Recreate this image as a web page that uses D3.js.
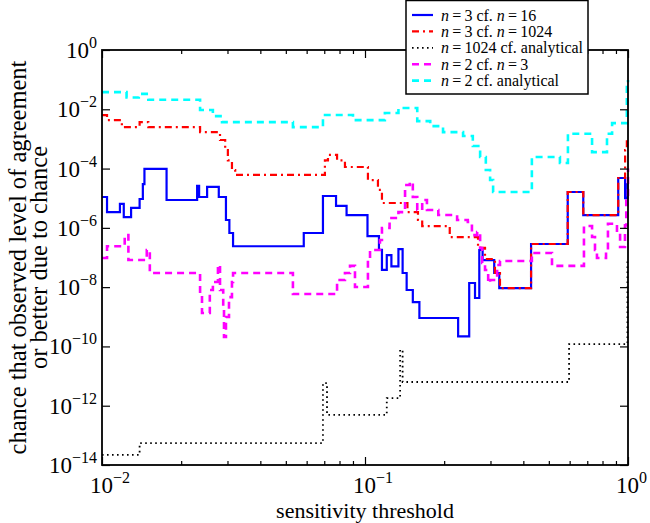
<!DOCTYPE html>
<html><head><meta charset="utf-8">
<script src="https://cdn.jsdelivr.net/npm/d3@7"></script>
<style>
body{margin:0;background:#fff;}
svg{display:block;}
</style></head>
<body><svg id="c" width="650" height="523"></svg>
<script>
// ---- data (x = sensitivity threshold, y = chance) ----
const n3v16 = [[0.0100,1.1e-5],[0.01045,3.4e-6],[0.0117,6.4e-6],[0.0121,2.3e-6],[0.0129,4.7e-6],[0.0139,9.4e-6],[0.0143,3.0e-5],[0.0145,9.7e-5],[0.0176,8.7e-6],[0.0230,2.6e-5],[0.0234,1.1e-5],[0.0251,2.4e-5],[0.0278,1.1e-5],[0.0296,1.84e-6],[0.0305,6.7e-7],[0.0315,2.4e-7],[0.0585,6.7e-7],[0.0692,1.19e-5],[0.0776,5.5e-6],[0.0851,2.7e-6],[0.1022,5.3e-7],[0.113,1.8e-7],[0.116,3.8e-8],[0.121,1.21e-7],[0.126,5.0e-8],[0.134,1.93e-7],[0.139,3.0e-8],[0.144,8.0e-9],[0.152,3.1e-9],[0.161,9.1e-10],[0.226,2.2e-10],[0.249,1.38e-8],[0.262,4.3e-9],[0.272,1.79e-7],[0.280,8.2e-8],[0.310,3.0e-8],[0.324,9.3e-9],[0.428,2.85e-7],[0.590,1.62e-5],[0.676,2.7e-6],[0.918,4.8e-5],[0.975,1.0e-5],[0.995,3.0e-5],[1.0,3.0e-5]];
const n3v1024 = [[0.0100,6.4e-3],[0.01045,4.3e-3],[0.0119,2.5e-3],[0.0139,3.7e-3],[0.0150,2.5e-3],[0.0236,1.7e-3],[0.0281,9.2e-4],[0.0294,4.2e-4],[0.0301,1.9e-4],[0.0312,8.9e-5],[0.0321,6.1e-5],[0.0704,1.9e-4],[0.0723,2.9e-4],[0.0783,1.9e-4],[0.0839,1.13e-4],[0.1026,4.1e-5],[0.112,1.9e-5],[0.116,6.9e-6],[0.145,3.4e-6],[0.159,1.84e-6],[0.165,1.15e-6],[0.210,4.9e-7],[0.269,2.1e-7],[0.286,8.9e-8],[0.312,3.0e-8],[0.326,9.3e-9],[0.428,2.85e-7],[0.590,1.62e-5],[0.676,2.7e-6],[0.918,4.8e-5],[0.975,4.2e-4],[0.99,9e-4],[1.0,9e-4]];
const n1024vAnalytical = [[0.0100,2.2e-14],[0.0139,5.5e-14],[0.0692,5.8e-12],[0.0717,4.9e-13],[0.121,1.8e-12],[0.136,7.6e-11],[0.139,6.3e-12],[0.597,1.2e-10],[0.995,9e-8],[1.0,9e-8]];
const n2v3 = [[0.0100,9.6e-8],[0.01045,2.4e-7],[0.0122,5.7e-7],[0.0126,8.2e-8],[0.0148,1.79e-7],[0.0152,3.0e-8],[0.0236,6.3e-9],[0.0240,1.34e-9],[0.0257,8.0e-9],[0.0264,1.49e-8],[0.0276,5.6e-8],[0.0281,8.0e-9],[0.0289,2.1e-9],[0.0291,2.1e-10],[0.0296,9.8e-10],[0.0304,4.6e-9],[0.0312,1.49e-8],[0.0315,3.0e-8],[0.0532,5.9e-9],[0.0783,1.74e-8],[0.0839,3.0e-8],[0.0877,5.2e-8],[0.0916,1.01e-8],[0.1026,8.2e-8],[0.1045,1.79e-7],[0.114,3.9e-7],[0.116,9.9e-7],[0.124,2.15e-6],[0.134,3.4e-6],[0.142,2.8e-5],[0.148,3.5e-5],[0.152,1.1e-5],[0.158,4.0e-6],[0.165,8.7e-6],[0.172,4.0e-6],[0.190,2.7e-6],[0.224,1.84e-6],[0.246,1.57e-6],[0.255,5.7e-7],[0.267,7.2e-7],[0.274,2.1e-7],[0.279,6.5e-8],[0.286,3.8e-8],[0.294,1.38e-8],[0.299,1.74e-8],[0.318,5.6e-8],[0.326,7.6e-8],[0.431,1.42e-7],[0.514,5.2e-8],[0.680,1.15e-6],[0.730,4.9e-7],[0.749,1.79e-7],[0.762,9.6e-8],[0.825,1.79e-7],[0.839,1.38e-6],[0.908,6.7e-7],[0.933,2.26e-7],[0.974,1.21e-6],[0.985,1.0e-5],[1.0,1.0e-4]];
const n2vAnalytical = [[0.0100,3.8e-2],[0.0124,2.5e-2],[0.0138,3.3e-2],[0.0150,2.1e-2],[0.0236,9.5e-3],[0.0264,5.9e-3],[0.0286,3.7e-3],[0.0532,2.5e-3],[0.0692,6.4e-3],[0.0900,4.3e-3],[0.119,7.5e-3],[0.134,1.1e-2],[0.158,4.0e-3],[0.177,2.7e-3],[0.198,1.7e-3],[0.236,1.26e-3],[0.257,5.8e-4],[0.274,2.45e-4],[0.288,8.9e-5],[0.299,4.1e-5],[0.307,1.62e-5],[0.431,2.45e-4],[0.551,1.54e-4],[0.591,1.5e-3],[0.730,3.6e-4],[0.832,1.5e-3],[0.870,3.4e-3],[0.99,5.6e-2],[1.0,9.7e-2]];

const xTickExps = [-2, -1, 0];
const yTickExps = [0, -2, -4, -6, -8, -10, -12, -14];
const xLabel = "sensitivity threshold";
const yLabel1 = "chance that observed level of agreement";
const yLabel2 = "or better due to chance";

const series = [
  {data: n3v16, color: "#0000ff", dash: null, w: 2.2, lab: [["n",1],["\u2009=\u20093 cf. ",0],["n",1],["\u2009=\u200916",0]]},
  {data: n3v1024, color: "#ff0000", dash: "7,4,2,4", w: 2.2, lab: [["n",1],["\u2009=\u20093 cf. ",0],["n",1],["\u2009=\u20091024",0]]},
  {data: n1024vAnalytical, color: "#000000", dash: "1.6,3.4", w: 1.8, lab: [["n",1],["\u2009=\u20091024 cf. analytical",0]]},
  {data: n2v3, color: "#ff00ff", dash: "7,5", w: 2.6, lab: [["n",1],["\u2009=\u20092 cf. ",0],["n",1],["\u2009=\u20093",0]]},
  {data: n2vAnalytical, color: "#00ffff", dash: "7,5", w: 2.6, lab: [["n",1],["\u2009=\u20092 cf. analytical",0]]}
];

const FONT = '"Liberation Serif"';

// ---- layout ----
const L = 102, R = 628, T = 50, B = 465;
const svg = d3.select("#c");
const x = d3.scaleLog().domain([0.01, 1]).range([L, R]);
const y = d3.scaleLog().domain([1e-14, 1]).range([B, T]);

svg.append("defs").append("clipPath").attr("id","clip")
  .append("rect").attr("x", L).attr("y", T - 2).attr("width", R - L + 2).attr("height", B - T + 4);

const line = d3.line().x(d => x(d[0])).y(d => y(d[1])).curve(d3.curveStepAfter);
const g = svg.append("g").attr("clip-path","url(#clip)");
series.forEach(s => {
  g.append("path").datum(s.data).attr("d", line)
    .attr("fill","none").attr("stroke", s.color).attr("stroke-width", s.w)
    .attr("stroke-dasharray", s.dash).attr("stroke-linejoin","miter");
});

// ---- ticks ----
const xMajor = xTickExps.map(e => Math.pow(10, e));
const xMinor = [];
[-2, -1].forEach(e => { for (let k = 2; k <= 9; k++) xMinor.push(k * Math.pow(10, e)); });
const yMajor = yTickExps.map(e => Math.pow(10, e));

function ax(gen, tv, size, tr) {
  const a = svg.append("g").attr("transform", tr)
    .call(gen.tickValues(tv).tickSize(size).tickFormat(""));
  a.select(".domain").remove();
  a.selectAll("line").attr("stroke","#000").attr("stroke-width",1.2);
}
ax(d3.axisBottom(x), xMajor, -8, `translate(0,${B})`);
ax(d3.axisBottom(x), xMinor, -4, `translate(0,${B})`);
ax(d3.axisTop(x), xMajor, -8, `translate(0,${T})`);
ax(d3.axisTop(x), xMinor, -4, `translate(0,${T})`);
ax(d3.axisLeft(y), yMajor, -8, `translate(${L},0)`);
ax(d3.axisRight(y), yMajor, -8, `translate(${R},0)`);

svg.append("rect").attr("x", L).attr("y", T).attr("width", R - L).attr("height", B - T)
  .attr("fill","none").attr("stroke","#000").attr("stroke-width",1.8);

// tick labels
function pow10Label(sel, e) {
  sel.append("tspan").text("10");
  sel.append("tspan").attr("dy", -10).style("font-size", "16px").text(e === 0 ? "0" : "\u2212" + Math.abs(e));
}
xTickExps.forEach(e => {
  const t = svg.append("text").attr("x", x(Math.pow(10, e)) - 12).attr("y", B + 28)
    .style("font-size", "23px").style("font-family", FONT);
  pow10Label(t, e);
});
yTickExps.forEach(e => {
  const t = svg.append("text").attr("x", L - 5).attr("y", y(Math.pow(10, e)) + 8)
    .style("font-size", "23px").attr("text-anchor","end").style("font-family", FONT);
  pow10Label(t, e);
});

// axis labels
svg.append("text").attr("x", (L + R) / 2).attr("y", 518).style("font-size", "22px").style("font-family", FONT)
  .attr("text-anchor","middle").text(xLabel);
svg.append("text").attr("transform", `translate(26,${(T + B) / 2}) rotate(-90)`).style("font-family", FONT)
  .style("font-size", "24.5px").attr("text-anchor","middle").text(yLabel1);
svg.append("text").attr("transform", `translate(47,${(T + B) / 2}) rotate(-90)`).style("font-family", FONT)
  .style("font-size", "24.5px").attr("text-anchor","middle").text(yLabel2);

// ---- legend ----
const lg = svg.append("g");
lg.append("rect").attr("x", 406).attr("y", 0.5).attr("width", 182).attr("height", 93.5)
  .attr("fill","#fff").attr("stroke","#000").attr("stroke-width",1.5);
series.forEach((s, i) => {
  const yy = 15 + i * 16.4;
  lg.append("line").attr("x1", 412).attr("x2", 433).attr("y1", yy).attr("y2", yy)
    .attr("stroke", s.color).attr("stroke-width", s.w).attr("stroke-dasharray", s.dash);
  const t = lg.append("text").attr("x", 441).attr("y", yy + 5.5).style("font-size", "16px").style("font-family", FONT);
  s.lab.forEach(p => t.append("tspan").style("font-style", p[1] ? "italic" : "normal").text(p[0]));
});
</script></body></html>
